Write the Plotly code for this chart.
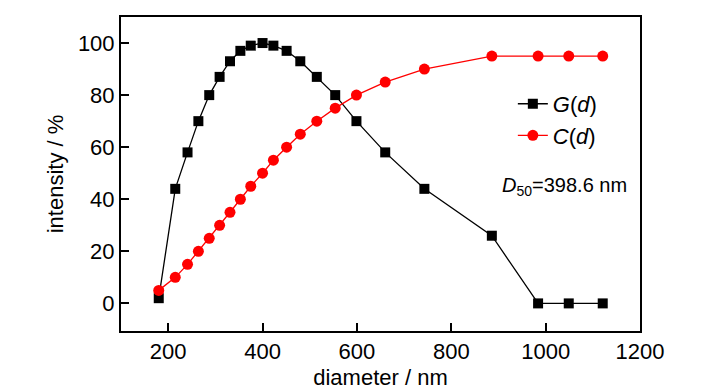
import plotly.graph_objects as go

diameter = [180, 215, 241, 264, 287, 309, 331, 353, 375, 400, 423, 451, 480, 515, 554,
            599, 660, 743, 886, 984, 1049, 1121]
g_values = [2, 44, 58, 70, 80, 87, 93, 97, 99, 100, 99, 97, 93, 87, 80,
            70, 58, 44, 26, 0, 0, 0]
c_values = [5, 10, 15, 20, 25, 30, 35, 40, 45, 50, 55, 60, 65, 70, 75,
            80, 85, 90, 95, 95, 95, 95]
x_ticks = [200, 400, 600, 800, 1000, 1200]
y_ticks = [0, 20, 40, 60, 80, 100]

FONT = "Liberation Sans, Arial"

fig = go.Figure()
fig.add_trace(go.Scatter(x=diameter, y=g_values, mode="lines+markers",
                         name="<i>G</i>(<i>d</i>)",
                         line=dict(color="black", width=1.3),
                         marker=dict(symbol="square", size=10, color="black")))
fig.add_trace(go.Scatter(x=diameter, y=c_values, mode="lines+markers",
                         name="<i>C</i>(<i>d</i>)",
                         line=dict(color="#ff0000", width=1.3),
                         marker=dict(symbol="circle", size=11, color="#ff0000")))

axis_common = dict(showline=True, linecolor="black", linewidth=2, mirror=True,
                   ticks="inside", ticklen=8, tickwidth=1.5, tickcolor="black",
                   showgrid=False, zeroline=False, automargin=False,
                   tickfont=dict(family=FONT, size=22, color="black"))

fig.update_xaxes(range=[100, 1200], tickvals=x_ticks,
                 title=dict(text="diameter / nm", font=dict(family=FONT, size=22, color="black"),
                            standoff=6),
                 **axis_common)
fig.update_yaxes(range=[-10.6, 110], tickvals=y_ticks,
                 title=dict(text="intensity / %", font=dict(family=FONT, size=22, color="black"),
                            standoff=8),
                 **axis_common)

fig.add_annotation(xref="paper", yref="paper", x=0.73, y=0.459, xanchor="left",
                   yanchor="middle", showarrow=False,
                   text="<i>D</i><sub>50</sub>=398.6 nm",
                   font=dict(family=FONT, size=20, color="black"))

fig.update_layout(width=727, height=390,
                  margin=dict(l=121, r=87, t=17, b=59),
                  paper_bgcolor="white", plot_bgcolor="white",
                  showlegend=True,
                  legend=dict(x=0.755, y=0.79, xanchor="left", yanchor="top",
                              bgcolor="rgba(0,0,0,0)",
                              font=dict(family=FONT, size=22, color="black"),
                              itemwidth=30, tracegroupgap=0))

fig.write_html("out.html", config={"displayModeBar": False},
               post_script="document.body.style.margin='0';")
